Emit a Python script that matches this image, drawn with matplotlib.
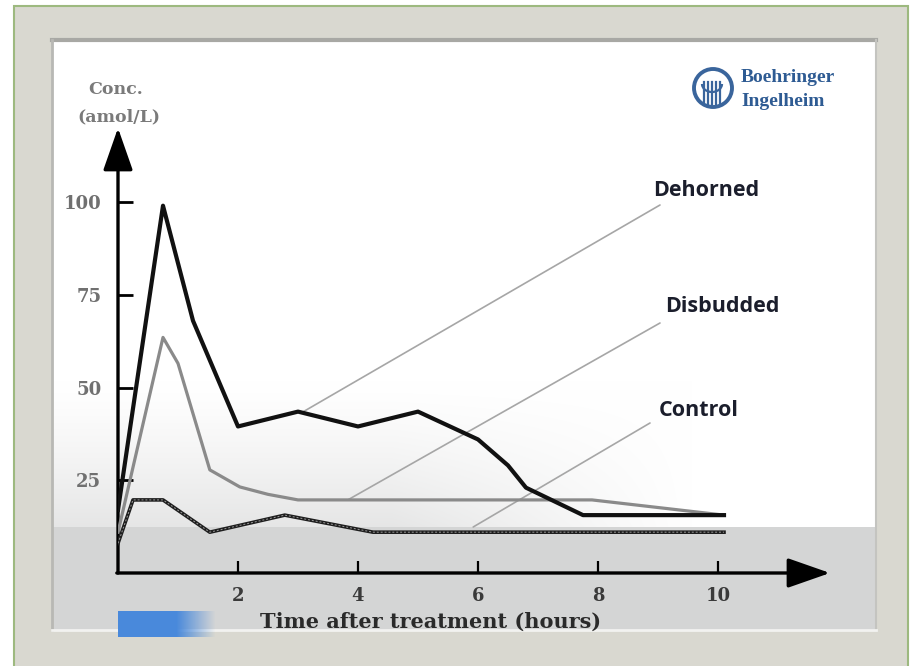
import numpy as np
import matplotlib
matplotlib.use("Agg")
import matplotlib.pyplot as plt
from matplotlib.patches import Rectangle, Circle, Arc

# data
t_dehorned = [0, 0.75, 1.25, 2.0, 3.0, 4.0, 5.0, 6.0, 6.5, 6.8, 7.75, 10.1]
dehorned = [17, 99, 68, 39.5, 43.5, 39.5, 43.5, 36, 29, 23, 15.6, 15.6]

t_disbudded = [0, 0.75, 1.0, 1.53, 2.03, 2.5, 3.0, 7.9, 10.1]
disbudded = [11, 63.5, 56.5, 27.8, 23.2, 21.2, 19.7, 19.7, 15.6]

t_control = [0, 0.25, 0.75, 1.53, 2.78, 4.25, 10.1]
control = [8, 19.7, 19.7, 11, 15.6, 11, 11]

x_ticks = [2, 4, 6, 8, 10]
y_ticks = [25, 50, 75, 100]

W, H = 920, 666
fig = plt.figure(figsize=(W / 100, H / 100), dpi=100)
fig.patch.set_facecolor("white")

# background / frame in pixel coords
bg = fig.add_axes([0, 0, 1, 1])
bg.set_xlim(0, W)
bg.set_ylim(H, 0)
bg.axis("off")

bg.add_patch(Rectangle((14, 6), 894, 662, facecolor="#d9d8d0", edgecolor="#9db97f", lw=1.5))

# inner panel: white on top, grey "photo" band at the bottom
ph, pw = 590, 824
panel = np.ones((ph, pw, 3))
yy, xx = np.mgrid[0:ph, 0:pw]
fade = np.clip((yy - 340) / 180.0, 0, 1) ** 1.3 * np.clip((640 - xx) / 300.0, 0, 1)
shade = 0.13 * fade
shade[yy > 486] = 0.165
panel -= shade[..., None] * np.array([1.0, 0.985, 0.985])
bg.imshow(panel, extent=(52, 876, 630, 40), zorder=1, aspect="auto")
bg.plot([52, 876], [40, 40], color="#a8a8a4", lw=3, zorder=2)
bg.plot([52, 52], [40, 630], color="#b8b8b4", lw=2, zorder=2)
bg.plot([876, 876], [40, 630], color="#c4c4c0", lw=1.5, zorder=2)
bg.plot([52, 876], [630, 630], color="#f2f2f0", lw=2, zorder=2)

# blue bar bottom-left
blue = np.zeros((1, 100, 4))
blue[..., 0], blue[..., 1], blue[..., 2] = 0.29, 0.54, 0.86
blue[0, :, 3] = np.clip((100 - np.arange(100)) / 40.0, 0, 1)
bg.imshow(blue, extent=(118, 215, 637, 611), zorder=2, aspect="auto")

# logo
bg.add_patch(Circle((713, 88), 19, fill=False, ec="#3a659c", lw=2.8, zorder=3))
for bx in [704, 708, 712, 716, 720]:
    bg.plot([bx, bx], [82, 104], color="#3a659c", lw=1.6, zorder=3)
bg.add_patch(Arc((712, 84), 20, 16, theta1=0, theta2=180, ec="#3a659c", lw=1.6, zorder=3))
bg.text(741, 78, "Boehringer", fontsize=14, family="Liberation Serif", weight="bold",
        color="#2e5b93", va="center", ha="left", zorder=3)
bg.text(741, 101, "Ingelheim", fontsize=14, family="Liberation Serif", weight="bold",
        color="#2e5b93", va="center", ha="left", zorder=3)

# axis titles
bg.text(116, 90, "Conc.", fontsize=12.5, family="DejaVu Serif", weight="bold",
        color="#7a7a7a", ha="center", va="center", zorder=3)
bg.text(119, 117, "(amol/L)", fontsize=12.5, family="DejaVu Serif", weight="bold",
        color="#7a7a7a", ha="center", va="center", zorder=3)
bg.text(431, 622, "Time after treatment (hours)", fontsize=15, family="DejaVu Serif",
        weight="bold", color="#2a2a2a", ha="center", va="center", zorder=3)

# data axes
x0, x_ax, y0, y_top = 118, 830, 573, 128
ax = fig.add_axes([x0 / W, (H - y0) / H, (x_ax - x0) / W, (y0 - y_top) / H])
ax.patch.set_alpha(0)
xmax = (x_ax - x0) / 60.0
ymax = (y0 - y_top) / 3.71
ax.set_xlim(0, xmax)
ax.set_ylim(0, ymax)
for s in ax.spines.values():
    s.set_visible(False)

ax.annotate("", xy=(0, ymax), xytext=(0, 0),
            arrowprops=dict(arrowstyle="-|>,head_length=1.2,head_width=0.42", lw=2.4,
                            color="black", shrinkA=0, shrinkB=0, mutation_scale=22))
ax.annotate("", xy=(xmax, 0), xytext=(-0.02, 0),
            arrowprops=dict(arrowstyle="-|>,head_length=1.2,head_width=0.42", lw=2.4,
                            color="black", shrinkA=0, shrinkB=0, mutation_scale=22))

ax.set_xticks(x_ticks)
ax.set_xticklabels([str(v) for v in x_ticks])
ax.set_yticks(y_ticks)
ax.set_yticklabels([str(v) for v in y_ticks])
ax.tick_params(axis="x", direction="in", length=9, width=1.6, pad=10, color="black")
ax.tick_params(axis="y", direction="in", length=11, width=2.0, pad=12, color="black")
for lab in ax.get_xticklabels():
    lab.set_fontfamily("DejaVu Serif")
    lab.set_fontweight("bold")
    lab.set_fontsize(13)
    lab.set_color("#3a3a3a")
for lab in ax.get_yticklabels():
    lab.set_fontfamily("DejaVu Serif")
    lab.set_fontweight("bold")
    lab.set_fontsize(13)
    lab.set_color("#707070")

ax.plot(t_disbudded, disbudded, color="#8a8a8a", lw=2.3, solid_joinstyle="round", zorder=3)
ax.plot(t_control, control, color="#1e1e1e", lw=2.6, solid_joinstyle="round", zorder=3)
ax.plot(t_control, control, color="#9a9a9a", lw=0.7, ls=(0, (2, 2)), zorder=3)
ax.plot(t_dehorned, dehorned, color="#111111", lw=3.0, solid_joinstyle="round", zorder=4)

# pointer lines and labels
pointers = [("Dehorned", (3.08, 43.4), (660, 205), (706, 190)),
            ("Disbudded", (3.83, 19.7), (660, 323), (722, 306)),
            ("Control", (5.92, 12.4), (650, 423), (699, 411))]
for name, xy, lend, tpos in pointers:
    ax.annotate("", xy=xy, xycoords="data", xytext=(lend[0], H - lend[1]),
                textcoords="figure pixels",
                arrowprops=dict(arrowstyle="-", color="#a6a6a6", lw=1.2, shrinkA=0, shrinkB=0),
                zorder=2)
    bg.text(tpos[0], tpos[1], name, fontsize=15.5, family="Open Sans", weight="bold",
            color="#1b1e2c", ha="center", va="center", zorder=5)

fig.savefig("out.png", dpi=100)
